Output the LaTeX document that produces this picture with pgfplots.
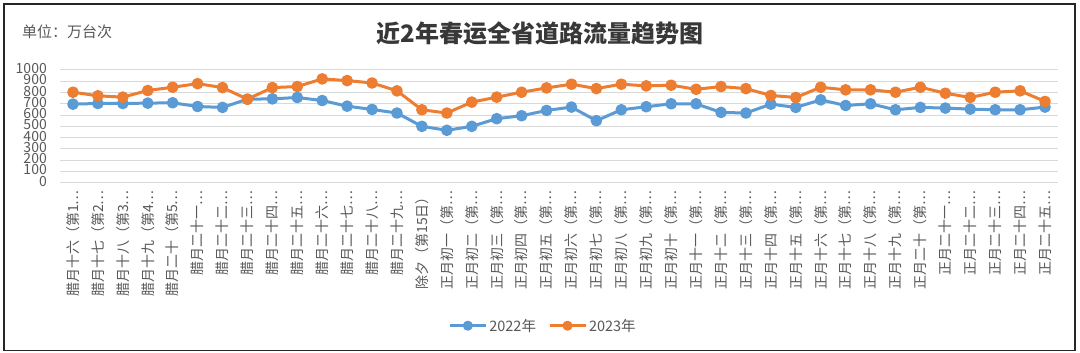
\documentclass[border=0pt]{standalone}
\usepackage{fontspec}
\setmainfont{Noto Sans CJK SC}
\usepackage{pgfplots}
\pgfplotsset{compat=1.18}
\definecolor{blueA}{HTML}{5B9BD5}
\definecolor{orangeB}{HTML}{ED7D31}
\definecolor{txtgray}{HTML}{595959}
\definecolor{gridgray}{HTML}{D9D9D9}
\begin{document}
\begin{tikzpicture}
\useasboundingbox (0pt,0pt) rectangle (1080pt,353pt);
\fill[white] (0pt,0pt) rectangle (1080pt,353pt);
\node[anchor=west, inner sep=0pt, font=\fontsize{15}{18}\selectfont, text=txtgray] at (22pt,321pt) {单位：万台次};
\node[inner sep=0pt, font=\fontsize{24}{28}\selectfont\bfseries, text=black!78] at (540pt,320pt) {近2年春运全省道路流量趋势图};
\begin{axis}[
  at={(60.5pt,170.3pt)}, anchor=south west,
  scale only axis, width=997pt, height=112.7pt,
  xmin=-0.5, xmax=39.5, ymin=0, ymax=1000,
  axis line style={draw=none},
  major tick length=0pt,
  ymajorgrids, grid style={gridgray, line width=1pt},
  ytick={0,100,...,1000},
  xtick={0,...,39},
  xticklabels={腊月十六（第1…,腊月十七（第2…,腊月十八（第3…,腊月十九（第4…,腊月二十（第5…,%
腊月二十一…,腊月二十二…,腊月二十三…,腊月二十四…,腊月二十五…,腊月二十六…,腊月二十七…,腊月二十八…,腊月二十九…,%
除夕（第15日）,正月初一（第…,正月初二（第…,正月初三（第…,正月初四（第…,正月初五（第…,正月初六（第…,正月初七（第…,%
正月初八（第…,正月初九（第…,正月初十（第…,正月十一（第…,正月十二（第…,正月十三（第…,正月十四（第…,正月十五（第…,%
正月十六（第…,正月十七（第…,正月十八（第…,正月十九（第…,正月二十（第…,正月二十一…,正月二十二…,正月二十三…,%
正月二十四…,正月二十五…},
  /pgf/number format/assume math mode=true,
  /pgf/number format/1000 sep={},
  tick label style={text=txtgray},
  yticklabel style={font=\fontsize{14}{14}\selectfont, anchor=east, inner sep=0pt, xshift=-13.5pt, text height=7pt, text depth=0pt},
  xticklabel style={font=\fontsize{14}{14}\selectfont, inner sep=0pt, yshift=-7.3pt, rotate=90, anchor=east},
  clip=false,
  legend style={at={(axis description cs:0.484,-1.269)}, anchor=center, draw=none, fill=none,
    legend columns=2, font=\fontsize{14.5}{15}\selectfont, text=txtgray,
    /tikz/every even column/.append style={column sep=10pt}},
  legend image code/.code={\draw[#1, mark repeat=2, mark phase=2, mark size=3.5pt] plot coordinates {(0pt,0pt) (18pt,0pt) (36pt,0pt)};},
]
\addplot[blueA, line width=3pt, line join=round, mark=*, mark size=4.3pt, mark options={draw=none, fill=blueA}] coordinates {
(0,697) (1,703) (2,703) (3,706) (4,709) (5,676) (6,668) (7,741) (8,744) (9,756)
(10,729) (11,679) (12,650) (13,618) (14,500) (15,465) (16,500) (17,568) (18,594) (19,641)
(20,671) (21,550) (22,647) (23,674) (24,700) (25,700) (26,624) (27,618) (28,697) (29,668)
(30,735) (31,685) (32,700) (33,647) (34,668) (35,662) (36,653) (37,647) (38,647) (39,671)};
\addlegendentry{2022年}
\addplot[orangeB, line width=3pt, line join=round, mark=*, mark size=4.3pt, mark options={draw=none, fill=orangeB}] coordinates {
(0,803) (1,771) (2,759) (3,818) (4,847) (5,879) (6,844) (7,741) (8,844) (9,853)
(10,921) (11,906) (12,885) (13,815) (14,647) (15,618) (16,715) (17,759) (18,803) (19,841)
(20,874) (21,835) (22,874) (23,859) (24,865) (25,829) (26,853) (27,835) (28,774) (29,756)
(30,847) (31,824) (32,824) (33,803) (34,847) (35,794) (36,756) (37,803) (38,815) (39,721)};
\addlegendentry{2023年}
\end{axis}
\draw[line width=1.8pt, black!85] (4pt,349.3pt) rectangle (1075pt,2.5pt);
\end{tikzpicture}
\end{document}
